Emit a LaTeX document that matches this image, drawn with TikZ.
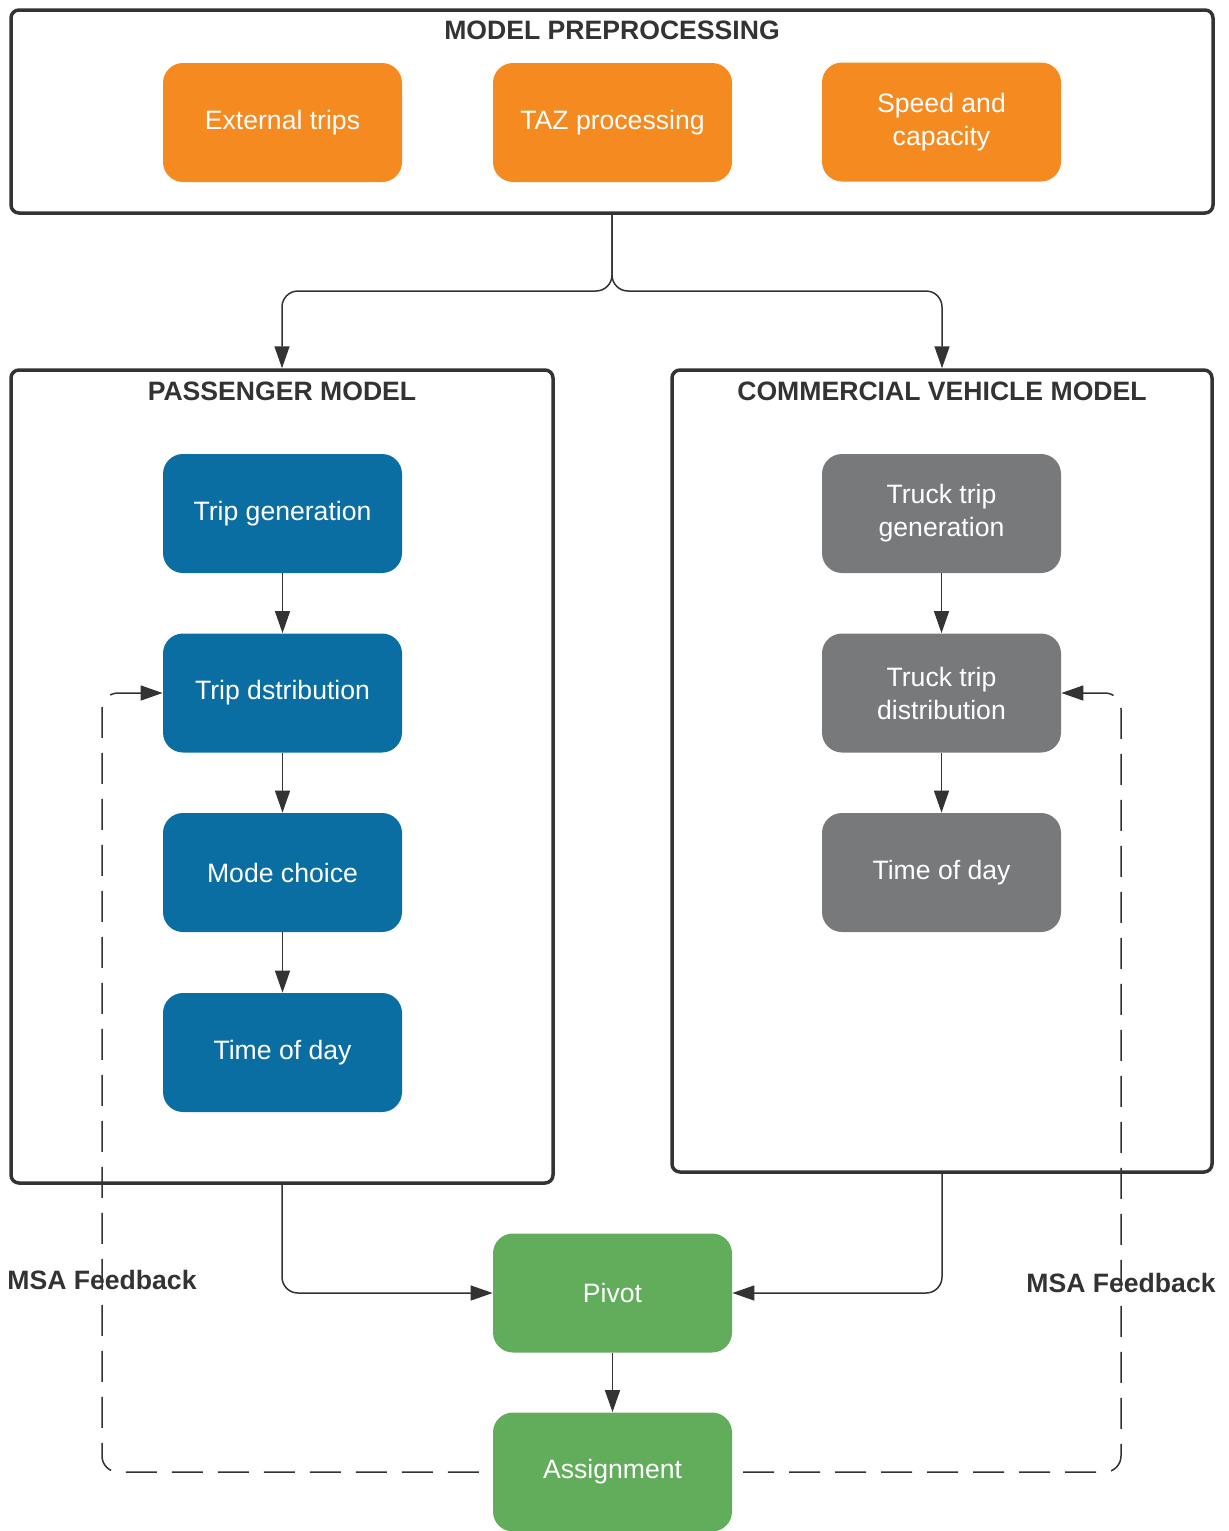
\documentclass[tikz,border=0pt]{standalone}
\usepackage{fontspec}
\setmainfont{Liberation Sans}
\usetikzlibrary{arrows.meta}
\definecolor{corange}{HTML}{F58A21}
\definecolor{cblue}{HTML}{0B6EA3}
\definecolor{cgray}{HTML}{78797B}
\definecolor{cgreen}{HTML}{62AD5C}
\definecolor{cline}{HTML}{333333}
\begin{document}
\begin{tikzpicture}[x=0.5pt,y=-0.5pt,
  frame/.style={draw=cline,line width=1.75pt,rounded corners=4pt,inner sep=0pt},
  box/.style={rounded corners=10pt,minimum width=119.5pt,minimum height=59.5pt,text=white,align=center,
    font=\fontsize{13.3}{16.5}\selectfont,inner sep=0pt},
  obox/.style={box,fill=corange},
  bbox/.style={box,fill=cblue},
  gbox/.style={box,fill=cgray},
  grbox/.style={box,fill=cgreen},
  title/.style={text=cline,font=\fontsize{13.3}{16}\selectfont\bfseries,inner sep=0pt},
  conn/.style={draw=cline,line width=0.75pt,-{Triangle[length=11pt,width=7.5pt]}},
  fb/.style={draw=cline,line width=0.75pt,{Triangle[length=11pt,width=7.5pt]}-,
    dash pattern=on 15.5pt off 7.5pt,rounded corners=8pt}
]
\useasboundingbox (0,0) rectangle (1228,1531);
% frames
\node[frame,minimum width=601pt,minimum height=101.5pt] (pre) at (612,111.5) {};
\node[frame,minimum width=271pt,minimum height=406.5pt] (pas) at (282,776.5) {};
\node[frame,minimum width=270pt,minimum height=401pt] (com) at (942,771) {};
\node[title] (preT) at (612,30) {MODEL PREPROCESSING};
\node[title] (pasT) at (282,391) {PASSENGER MODEL};
\node[title] (comT) at (942,391) {COMMERCIAL VEHICLE MODEL};
% preprocessing boxes
\node[obox] (ext) at (282.5,122.5) {External trips};
\node[obox] (taz) at (612.5,122.5) {TAZ processing};
\node[obox] (spd) at (941.5,122) {Speed and\\capacity};
% passenger
\node[bbox] (tg) at (282.5,513.5) {Trip generation};
\node[bbox] (td) at (282.5,693) {Trip dstribution};
\node[bbox] (mc) at (282.5,872.5) {Mode choice};
\node[bbox] (tod) at (282.5,1052.5) {Time of day};
% commercial
\node[gbox] (ttg) at (941.5,513.5) {Truck trip\\generation};
\node[gbox] (ttd) at (941.5,693) {Truck trip\\distribution};
\node[gbox] (ttod) at (941.5,872.5) {Time of day};
% bottom
\node[grbox] (piv) at (612.5,1293) {Pivot};
\node[grbox] (asg) at (612.5,1472) {Assignment};
% labels
\node[title] (msaL) at (102,1280) {MSA Feedback};
\node[title] (msaR) at (1121,1283) {MSA Feedback};
% connectors
\coordinate (split) at (612,291);
\draw[conn,rounded corners=8pt] (pre.south) -- (split) -| (pas.north);
\draw[conn,rounded corners=8pt] (pre.south) -- (split) -| (com.north);
\draw[conn] (tg) -- (td);
\draw[conn] (td) -- (mc);
\draw[conn] (mc) -- (tod);
\draw[conn] (ttg) -- (ttd);
\draw[conn] (ttd) -- (ttod);
\draw[conn,rounded corners=8pt] (pas.south) |- (piv.west);
\draw[conn,rounded corners=8pt] (com.south) |- (piv.east);
\draw[conn] (piv) -- (asg);
% feedback
\coordinate (fl) at (102,0);
\coordinate (fr) at (1121,0);
\draw[fb] (td.west) -- (td.west -| fl) -- (asg.west -| fl) -- (asg.west);
\draw[fb] (ttd.east) -- (ttd.east -| fr) -- (asg.east -| fr) -- (asg.east);
\end{tikzpicture}
\end{document}
